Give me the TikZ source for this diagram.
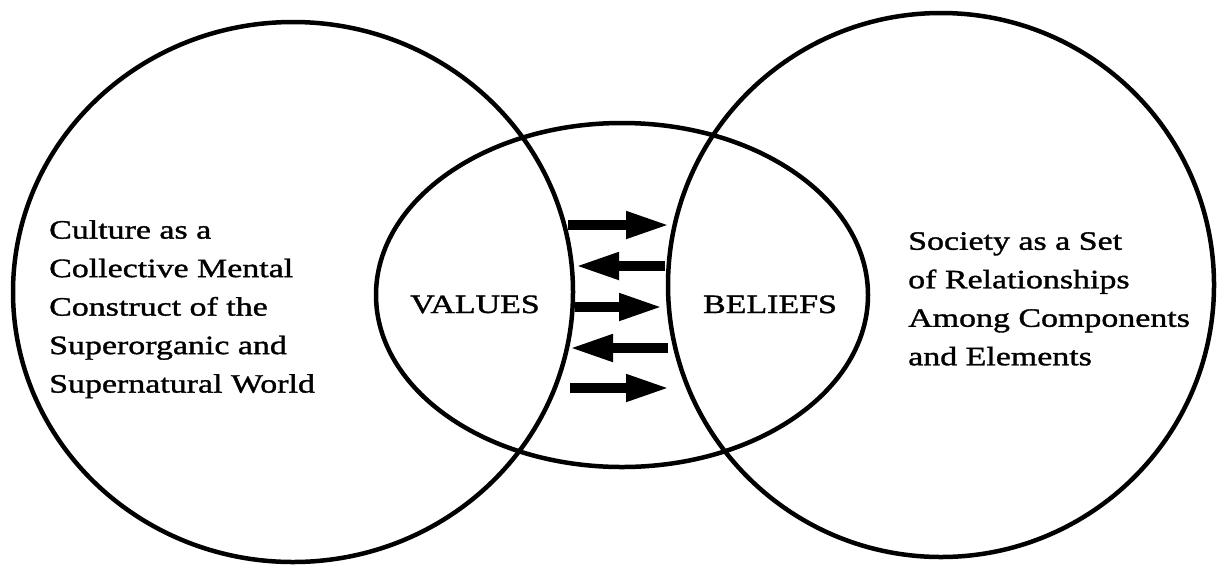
\documentclass[tikz,border=0pt]{standalone}
\usepackage{fontspec}
\setmainfont{Liberation Serif}[FakeStretch=1.28,FakeBold=1.3]
\usetikzlibrary{arrows.meta,shapes.geometric}
\begin{document}
\begin{tikzpicture}[x=1pt,y=-1pt,
  ring/.style={draw, ellipse, line width=4.5pt, inner sep=0pt},
  txt/.style={inner sep=0pt, font=\fontsize{26.5pt}{38.5pt}\selectfont},
  block/.style={txt, align=left, anchor=north west},
  flow/.style={line width=10pt, -{Triangle[length=44pt,width=25pt]}}
]
\useasboundingbox (0,0) rectangle (1220,566);
% circles
\node[ring, minimum width=560pt, minimum height=540pt] (culture) at (293,292) {};
\node[ring, minimum width=546pt, minimum height=544pt] (society) at (941,285) {};
\node[ring, minimum width=492pt, minimum height=344pt] (core) at (622,295) {};
% texts
\node[block] (ctext) at (49,220) {Culture as a\\Collective Mental\\Construct of the\\Superorganic and\\Supernatural World};
\node[block] (stext) at (908,232) {Society as a Set\\of Relationships\\Among Components\\and Elements};
\node[txt, anchor=base] (values) at (475,313) {VALUES};
\node[txt, anchor=base] (beliefs) at (770,313) {BELIEFS};
% arrow end points
\coordinate (a1s) at (568,225); \coordinate (a1e) at (670,225);
\coordinate (a2s) at (665,266); \coordinate (a2e) at (575,266);
\coordinate (a3s) at (575,307); \coordinate (a3e) at (663,307);
\coordinate (a4s) at (668,348); \coordinate (a4e) at (569,348);
\coordinate (a5s) at (570,388); \coordinate (a5e) at (670,388);
\draw[flow] (a1s) -- (a1e);
\draw[flow] (a2s) -- (a2e);
\draw[flow] (a3s) -- (a3e);
\draw[flow] (a4s) -- (a4e);
\draw[flow] (a5s) -- (a5e);
\end{tikzpicture}
\end{document}
